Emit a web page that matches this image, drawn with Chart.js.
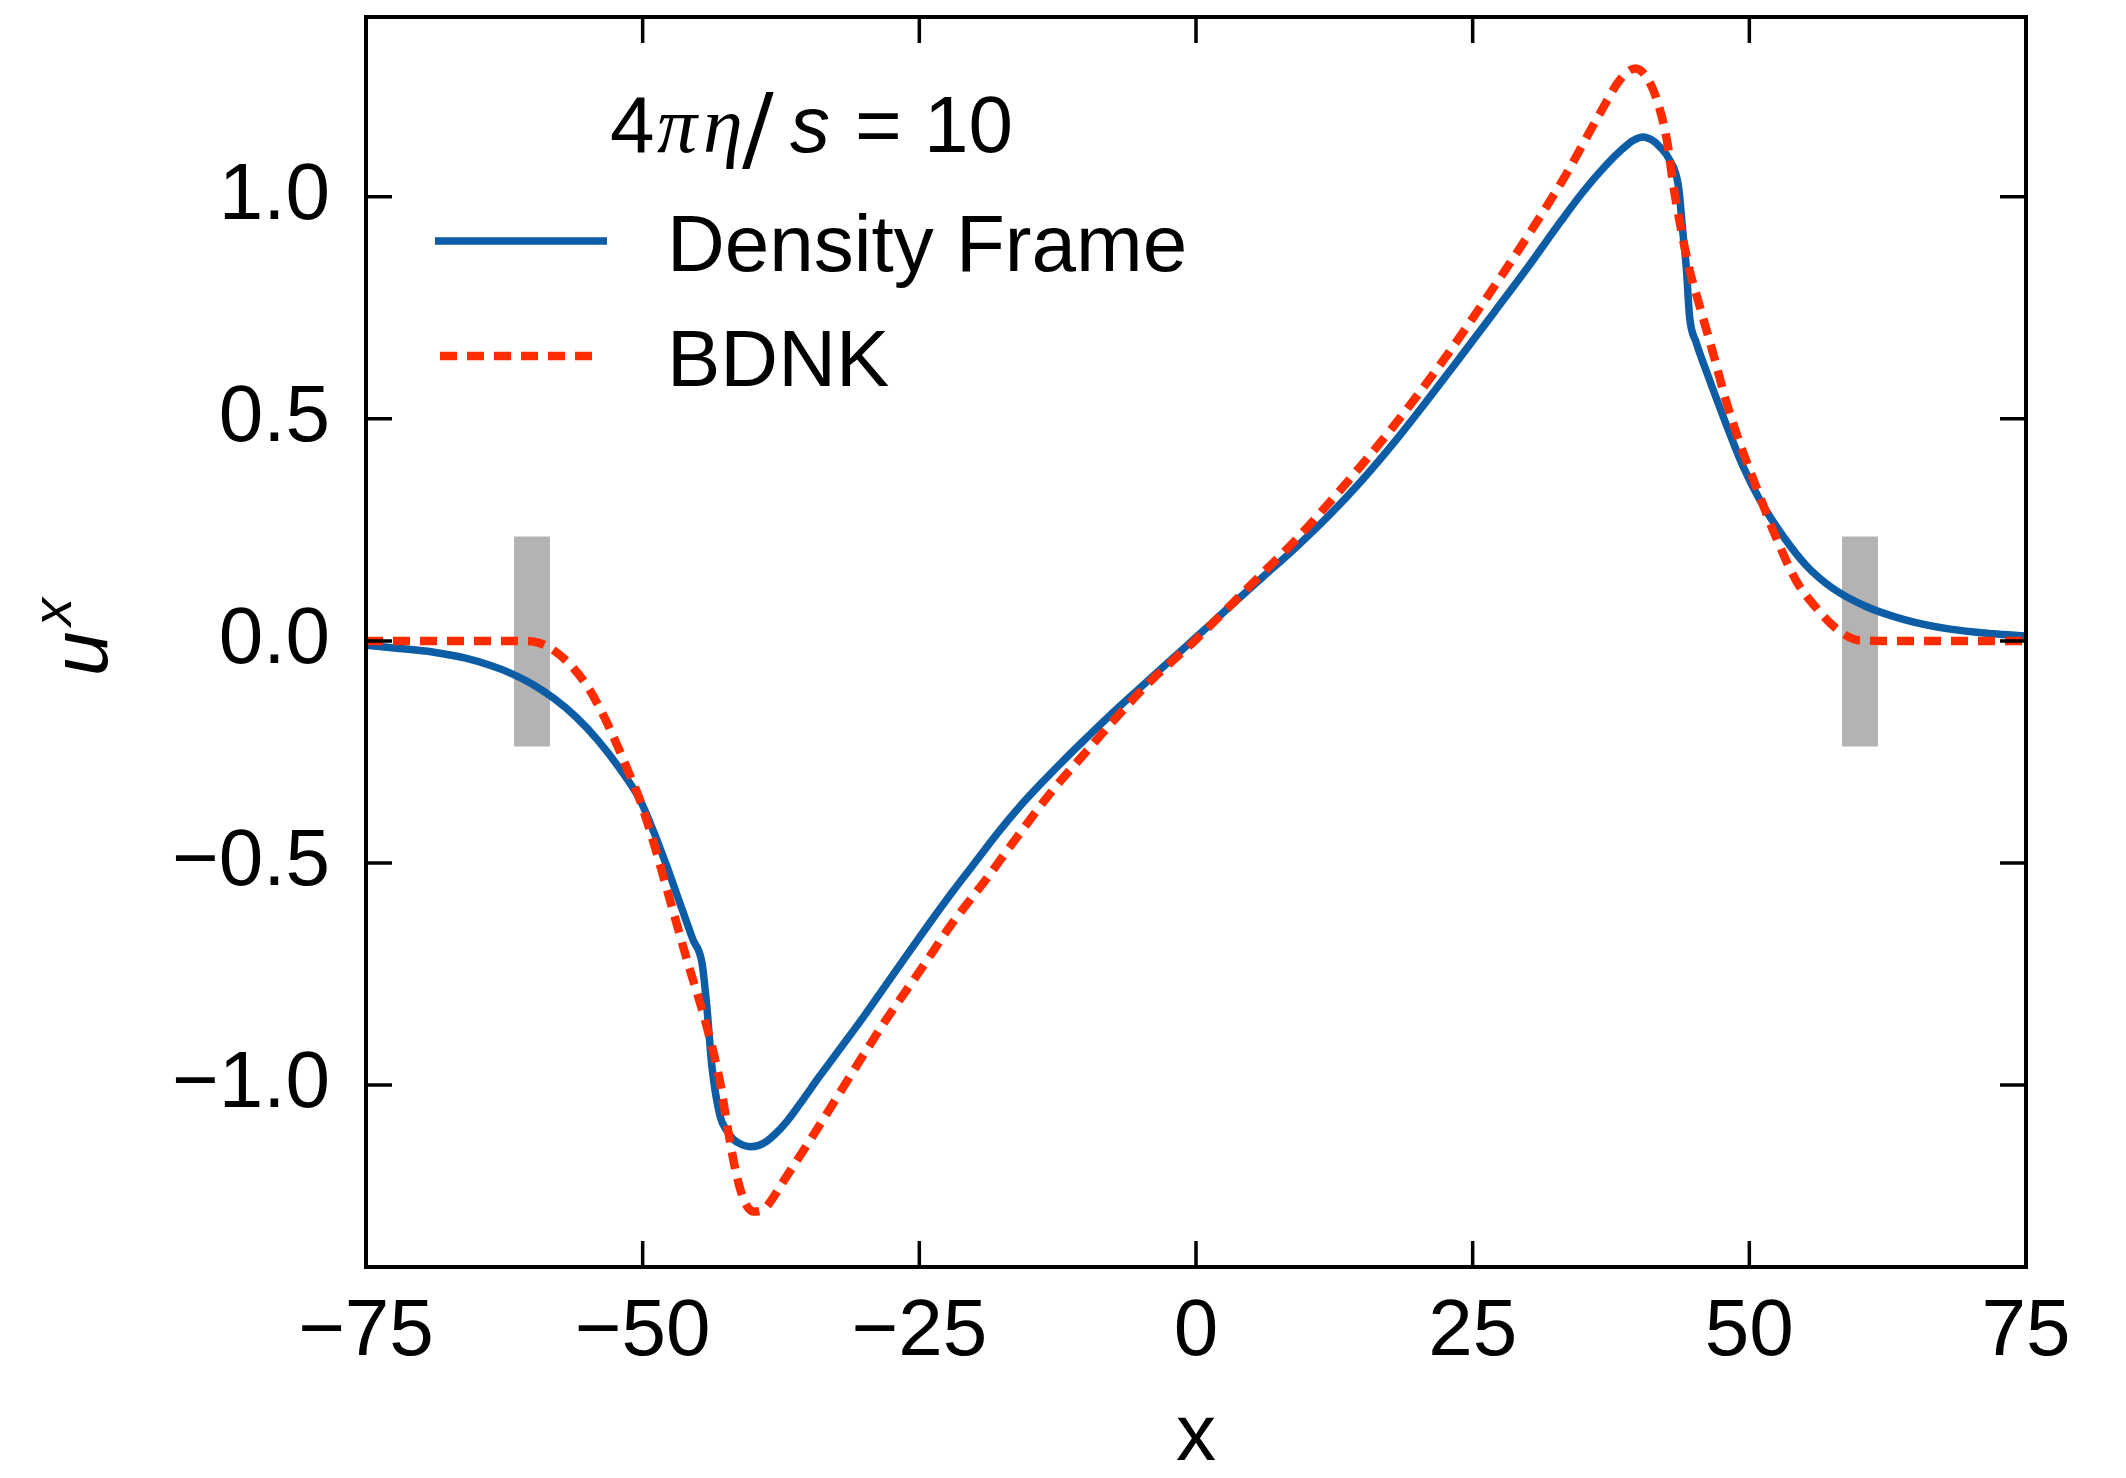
<!DOCTYPE html>
<html>
<head>
<meta charset="utf-8">
<script src="https://cdn.jsdelivr.net/npm/chart.js@4.4.0/dist/chart.umd.min.js"></script>
<style>
  html, body { margin: 0; padding: 0; background: #fff; }
  #chart { display: block; }
</style>
</head>
<body>
<canvas id="chart" width="2126" height="1478"></canvas>
<script>
// ---- data ----
const densityX = [-75, -72, -69, -66, -63.8, -62, -60, -58, -56, -54, -52, -50.24, -49, -47.8, -46.5, -45.45,
  -44.64, -44.2, -43.74, -43.0, -42.4, -41.8, -41, -40.3, -39.5, -38.8, -38, -37, -35.8, -34, -32, -30, -28, -26,
  -24, -22, -20, -18, -16, -14, -12, -10, -8, -6, -4, -2, 0, 3, 6, 9, 12, 15, 18, 21, 24, 27, 30, 33, 35, 37,
  38.5, 39.5, 40.4, 41.2, 41.9, 42.8, 43.6, 44.0, 44.3, 44.6, 45.2, 46, 46.74, 47.95, 49.45, 50.96, 53.07, 55.1,
  57.5, 60.5, 64, 68, 72, 75];
const densityY = [-0.01, -0.017, -0.025, -0.039, -0.055, -0.072, -0.097, -0.13, -0.172, -0.225, -0.29, -0.358,
  -0.43, -0.509, -0.6, -0.673, -0.725, -0.824, -0.959, -1.071, -1.103, -1.123, -1.135, -1.139, -1.136, -1.127,
  -1.11, -1.083, -1.043, -0.98, -0.913, -0.845, -0.774, -0.703, -0.633, -0.565, -0.5, -0.435, -0.375, -0.321,
  -0.27, -0.221, -0.173, -0.127, -0.082, -0.037, 0.008, 0.076, 0.143, 0.21, 0.282, 0.362, 0.45, 0.545, 0.643,
  0.742, 0.842, 0.946, 1.012, 1.07, 1.107, 1.127, 1.135, 1.128, 1.113, 1.083, 1.023, 0.918, 0.842, 0.73, 0.672,
  0.615, 0.565, 0.485, 0.392, 0.317, 0.235, 0.171, 0.119, 0.078, 0.048, 0.027, 0.016, 0.011];

const bdnkX = [-75, -70, -65, -62, -60.5, -59.3, -58, -56.3, -54.8, -53.6, -52.35, -51.15, -50.3, -49, -47.8, -46,
  -44.2, -43, -42.3, -41.5, -40.8, -40, -39.2, -38.8, -37, -34.25, -31, -28, -25, -22, -19, -16, -13, -10, -7, -4,
  -2, 0, 3, 6, 9, 12, 13.3, 17.8, 22.35, 27, 30.5, 33.5, 36.5, 38.3, 39.7, 40.7, 41.65, 42.55, 43.15, 43.9, 44.6,
  45.5, 46.7, 47.9, 49.1, 50.65, 52.3, 54.2, 56.2, 58.2, 60, 62, 65, 70, 75];
const bdnkY = [0, 0, 0, 0, 0, -0.005, -0.022, -0.06, -0.11, -0.165, -0.232, -0.303, -0.355, -0.455, -0.56, -0.718,
  -0.869, -0.995, -1.1, -1.205, -1.262, -1.285, -1.282, -1.274, -1.206, -1.1, -0.97, -0.853, -0.745, -0.635,
  -0.538, -0.436, -0.338, -0.252, -0.167, -0.088, -0.042, 0.003, 0.077, 0.152, 0.227, 0.31, 0.347, 0.482, 0.632,
  0.8, 0.932, 1.053, 1.188, 1.263, 1.289, 1.27, 1.218, 1.128, 1.023, 0.918, 0.835, 0.755, 0.65, 0.54, 0.448,
  0.345, 0.24, 0.137, 0.07, 0.021, 0.001, 0, 0, 0, 0];

// grey markers at x = -60 and x = 60
const bandCenters = [-60, 60];
const bandLow = -0.238;
const bandHigh = 0.235;

const xTicks = [-75, -50, -25, 0, 25, 50, 75];
const yTicks = [-1.0, -0.5, 0.0, 0.5, 1.0];
const seriesLabels = ["Density Frame", "BDNK"];

const BLUE = "#0C5DA5";
const RED = "#FF2C00";
const GREY = "#b3b3b3";
const SANS = "'Liberation Sans', Arial, Helvetica, sans-serif";
const SERIF = "'Liberation Serif', 'DejaVu Serif', serif";

Chart.defaults.font.family = SANS;
Chart.defaults.color = "#000";

const minus = (s) => String(s).replace("-", "\u2212");

const toPoints = (xs, ys) => xs.map((x, i) => ({ x: x, y: ys[i] }));

const bandSets = bandCenters.map((c) => ({
  data: [{ x: c, y: bandLow }, { x: c, y: bandHigh }],
  borderColor: GREY,
  borderWidth: 36,
  borderCapStyle: "butt",
  pointRadius: 0,
  showLine: true,
}));

// frame + inward ticks on all four sides
const framePlugin = {
  id: "frame",
  afterDatasetsDraw(chart) {
    const { ctx, chartArea: a, scales } = chart;
    const tick = 26;
    ctx.save();
    ctx.strokeStyle = "#000";
    ctx.lineWidth = 3.5;
    ctx.beginPath();
    xTicks.forEach((v) => {
      const px = scales.x.getPixelForValue(v);
      ctx.moveTo(px, a.bottom);
      ctx.lineTo(px, a.bottom - tick);
      ctx.moveTo(px, a.top);
      ctx.lineTo(px, a.top + tick);
    });
    yTicks.forEach((v) => {
      const py = scales.y.getPixelForValue(v);
      ctx.moveTo(a.left, py);
      ctx.lineTo(a.left + tick, py);
      ctx.moveTo(a.right, py);
      ctx.lineTo(a.right - tick, py);
    });
    ctx.stroke();
    ctx.lineWidth = 4;
    ctx.strokeRect(a.left, a.top, a.right - a.left, a.bottom - a.top);
    ctx.restore();
  },
};

// legend with title, drawn inside the plot area
const legendPlugin = {
  id: "legendBox",
  afterDraw(chart) {
    const ctx = chart.ctx;
    ctx.save();
    ctx.fillStyle = "#000";
    ctx.textBaseline = "alphabetic";
    ctx.textAlign = "left";

    // title: 4πη/s = 10
    const base = 152;
    ctx.font = "80px " + SANS;
    ctx.fillText("4", 610, base);
    ctx.font = "italic 80px " + SERIF;
    ctx.fillText("\u03C0", 657, base);
    ctx.fillText("\u03B7", 703, base);
    ctx.font = "94px 'DejaVu Serif', serif";
    ctx.fillText("/", 742, base + 8);
    ctx.font = "italic 80px " + SANS;
    ctx.fillText("s", 790, base);
    ctx.font = "80px " + SANS;
    ctx.fillText("= 10", 855, base);

    // entries
    ctx.lineCap = "butt";
    ctx.strokeStyle = BLUE;
    ctx.lineWidth = 7.5;
    ctx.beginPath();
    ctx.moveTo(435, 241);
    ctx.lineTo(607, 241);
    ctx.stroke();

    ctx.strokeStyle = RED;
    ctx.lineWidth = 8.5;
    ctx.setLineDash([17, 10]);
    ctx.beginPath();
    ctx.moveTo(440, 356);
    ctx.lineTo(593, 356);
    ctx.stroke();
    ctx.setLineDash([]);

    ctx.font = "80px " + SANS;
    ctx.fillText(seriesLabels[0], 667, 271);
    ctx.fillText(seriesLabels[1], 667, 386);
    ctx.restore();
  },
};

// y axis title u^x (rotated, with superscript)
const yTitlePlugin = {
  id: "yTitle",
  afterDraw(chart) {
    const ctx = chart.ctx;
    ctx.save();
    ctx.translate(107, 676);
    ctx.rotate(-Math.PI / 2);
    ctx.fillStyle = "#000";
    ctx.textBaseline = "alphabetic";
    ctx.textAlign = "left";
    ctx.font = "italic 80px " + SANS;
    ctx.fillText("u", 0, 0);
    ctx.font = "italic 56px " + SANS;
    ctx.fillText("x", 50, -36);
    ctx.restore();
  },
};

new Chart(document.getElementById("chart"), {
  type: "scatter",
  data: {
    datasets: [
      {
        label: seriesLabels[1],
        data: toPoints(bdnkX, bdnkY),
        borderColor: RED,
        borderWidth: 8.5,
        borderDash: [17, 10],
        borderCapStyle: "butt",
        pointRadius: 0,
        showLine: true,
        cubicInterpolationMode: "monotone",
      },
      {
        label: seriesLabels[0],
        data: toPoints(densityX, densityY),
        borderColor: BLUE,
        borderWidth: 7.5,
        pointRadius: 0,
        showLine: true,
        cubicInterpolationMode: "monotone",
      },
      ...bandSets,
    ],
  },
  options: {
    responsive: false,
    animation: false,
    devicePixelRatio: 1,
    layout: { padding: { left: 0, right: 100, top: 17, bottom: 0 } },
    plugins: {
      legend: { display: false },
      tooltip: { enabled: false },
    },
    scales: {
      x: {
        type: "linear",
        min: -75,
        max: 75,
        grid: { display: false, drawTicks: false },
        border: { display: false },
        afterBuildTicks: (s) => { s.ticks = xTicks.map((v) => ({ value: v })); },
        ticks: {
          font: { size: 80 },
          padding: 18,
          autoSkip: false,
          maxRotation: 0,
          callback: (v) => minus(v),
        },
        title: { display: true, text: "x", font: { size: 80, lineHeight: 1 }, padding: 0 },
        afterFit: (s) => {
          s.height = 211;
          s.paddingLeft = 0;
          s.paddingRight = 0;
        },
      },
      y: {
        type: "linear",
        min: -1.41,
        max: 1.405,
        grid: { display: false, drawTicks: false },
        border: { display: false },
        afterBuildTicks: (s) => { s.ticks = yTicks.map((v) => ({ value: v })); },
        ticks: {
          font: { size: 80 },
          padding: 36,
          autoSkip: false,
          callback: (v) => minus(v.toFixed(1)),
        },
        afterFit: (s) => {
          s.width = 366;
          s.paddingTop = 0;
          s.paddingBottom = 0;
        },
      },
    },
  },
  plugins: [framePlugin, legendPlugin, yTitlePlugin],
});
</script>
</body>
</html>
